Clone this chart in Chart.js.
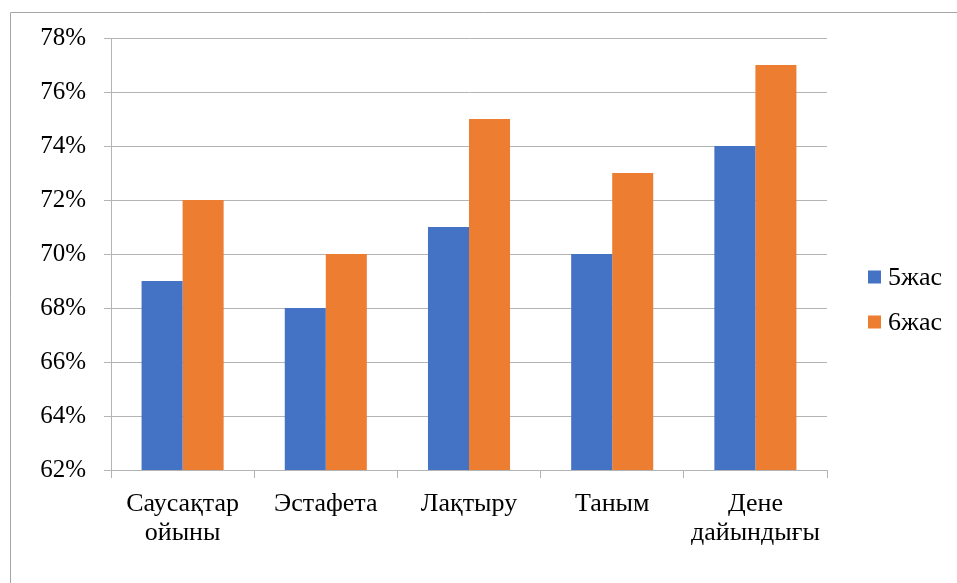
<!DOCTYPE html>
<html>
<head>
<meta charset="utf-8">
<script src="https://cdn.jsdelivr.net/npm/chart.js@4/dist/chart.umd.min.js"></script>
<style>
  html, body { margin: 0; padding: 0; background: #fff; }
  #wrap { position: relative; width: 957px; height: 583px; }
</style>
</head>
<body>
<div id="wrap"><canvas id="c" width="957" height="583"></canvas></div>
<script>
// Categories (multi-line labels) and percentage values per age group
const categories = [
  ['Саусақтар', 'ойыны'],
  ['Эстафета'],
  ['Лақтыру'],
  ['Таным'],
  ['Дене', 'дайындығы']
];
const seriesNames = ['5жас', '6жас'];
const age5 = [69, 68, 71, 70, 74];
const age6 = [72, 70, 75, 73, 77];
const yTicks = [62, 64, 66, 68, 70, 72, 74, 76, 78];

const FONT = "'Liberation Serif', 'Times New Roman', serif";
const GRID = '#b4b4b4';

// Frame lines and the legend drawn on the canvas
const framePlugin = {
  id: 'frame',
  beforeDraw(chart) {
    const ctx = chart.ctx;
    ctx.save();
    ctx.strokeStyle = '#a6a6a6';
    ctx.lineWidth = 1;
    ctx.beginPath();
    ctx.moveTo(10.5, 583);
    ctx.lineTo(10.5, 12.5);
    ctx.lineTo(957, 12.5);
    ctx.stroke();
    ctx.restore();
  },
  afterDraw(chart) {
    const ctx = chart.ctx;
    ctx.save();
    ctx.font = '26px ' + FONT;
    ctx.textBaseline = 'middle';
    chart.data.datasets.forEach((ds, i) => {
      const cy = 277 + i * 45;
      ctx.fillStyle = ds.backgroundColor;
      ctx.fillRect(868, cy - 6.5, 13, 13);
      ctx.fillStyle = '#000';
      ctx.fillText(ds.label, 888, cy + 1);
    });
    ctx.restore();
  }
};

new Chart(document.getElementById('c'), {
  type: 'bar',
  data: {
    labels: categories,
    datasets: [
      { label: seriesNames[0], data: age5, backgroundColor: '#4472C4' },
      { label: seriesNames[1], data: age6, backgroundColor: '#ED7D31' }
    ]
  },
  options: {
    responsive: false,
    animation: false,
    devicePixelRatio: 1,
    layout: { padding: { left: 12, top: 38, right: 130, bottom: 0 } },
    datasets: {
      bar: { categoryPercentage: 0.573, barPercentage: 1.0, borderWidth: 0 }
    },
    plugins: {
      legend: { display: false },
      tooltip: { enabled: false }
    },
    scales: {
      x: {
        grid: {
          offset: true,
          drawOnChartArea: false,
          drawTicks: true,
          tickLength: 8,
          color: GRID
        },
        border: { color: GRID },
        ticks: {
          color: '#000',
          font: { family: FONT, size: 26, lineHeight: 1.13 },
          padding: 11,
          maxRotation: 0,
          autoSkip: false
        },
        afterFit(scale) { scale.height = 113; }
      },
      y: {
        min: 62,
        max: 78,
        afterBuildTicks(scale) { scale.ticks = yTicks.map(v => ({ value: v })); },
        grid: { color: GRID, tickLength: 7, drawTicks: true },
        border: { color: GRID },
        ticks: {
          color: '#000',
          font: { family: FONT, size: 25 },
          padding: 18,
          callback: v => v + '%'
        },
        afterFit(scale) { scale.width = 99; }
      }
    }
  },
  plugins: [framePlugin]
});
</script>
</body>
</html>
